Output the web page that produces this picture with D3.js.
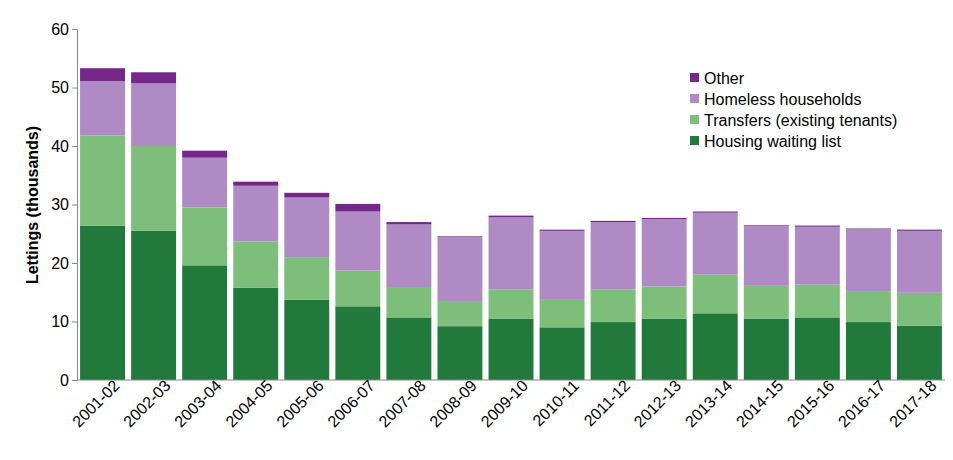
<!DOCTYPE html>
<html><head><meta charset="utf-8">
<script src="https://cdn.jsdelivr.net/npm/d3@7"></script>
<style>body{margin:0;background:#fff}text{font-family:"Liberation Sans",Arial,sans-serif}</style>
</head><body><svg id="c" width="953" height="460"></svg>
<script>
const categories=["2001-02","2002-03","2003-04","2004-05","2005-06","2006-07","2007-08","2008-09","2009-10","2010-11","2011-12","2012-13","2013-14","2014-15","2015-16","2016-17","2017-18"];
const waiting=[26.4,25.5,19.6,15.8,13.7,12.6,10.7,9.2,10.5,9.0,9.9,10.5,11.4,10.5,10.7,9.9,9.3];
const transfers=[15.4,14.5,9.9,7.9,7.3,6.1,5.2,4.3,5.0,4.7,5.6,5.5,6.6,5.6,5.6,5.3,5.6];
const homeless=[9.3,10.7,8.5,9.5,10.2,10.1,10.7,11.0,12.3,11.8,11.5,11.5,10.6,10.3,9.9,10.6,10.6];
const other=[2.2,1.9,1.2,0.7,0.8,1.3,0.4,0.1,0.3,0.2,0.2,0.2,0.2,0.1,0.2,0.1,0.2];
const yTicks=[0,10,20,30,40,50,60];
const seriesNames=["Housing waiting list","Transfers (existing tenants)","Homeless households","Other"];
const colors=["#217a3c","#7dbf7a","#af8ac4","#76288a"];

const svg=d3.select("#c");
const m={l:77,r:945,t:29,b:380};
const x=d3.scaleBand().domain(categories).range([m.l,m.r]).paddingInner(0.12).paddingOuter(0.06);
const y=d3.scaleLinear().domain([0,60]).range([m.b,m.t]);
const data=categories.map((c,i)=>({cat:c,s0:waiting[i],s1:transfers[i],s2:homeless[i],s3:other[i]}));
const stack=d3.stack().keys(["s0","s1","s2","s3"])(data);
svg.append("g").selectAll("g").data(stack).join("g").attr("fill",(d,i)=>colors[i])
 .selectAll("rect").data(d=>d).join("rect")
 .attr("x",d=>x(d.data.cat)).attr("width",x.bandwidth())
 .attr("y",d=>y(d[1])).attr("height",d=>y(d[0])-y(d[1]));
const ya=svg.append("g").attr("transform",`translate(${m.l},0)`).call(d3.axisLeft(y).tickValues(yTicks).tickSize(5).tickSizeOuter(0));
ya.selectAll("text").style("font-size","16px").attr("fill","#000");
ya.selectAll("line,path").attr("stroke","#888");
const xa=svg.append("g").attr("transform",`translate(0,${m.b})`).call(d3.axisBottom(x).tickSize(0).tickSizeOuter(0));
xa.select("path").attr("stroke","#888").attr("d",`M${m.l},0H${m.r}`);
xa.selectAll("text").style("font-size","16px").attr("fill","#000")
 .attr("text-anchor","end").attr("dx","0.5em").attr("dy","0.9em").attr("transform","rotate(-45)");
svg.append("text").attr("transform","translate(38,205) rotate(-90)").attr("text-anchor","middle")
 .style("font-size","16px").style("font-weight","bold").text("Lettings (thousands)");
const leg=svg.append("g");
[3,2,1,0].forEach((k,j)=>{
 const g=leg.append("g").attr("transform",`translate(690,${78+j*21})`);
 g.append("rect").attr("x",0).attr("y",-5).attr("width",9).attr("height",9).attr("fill",colors[k]);
 g.append("text").attr("x",14).attr("y",6).style("font-size","16px").text(seriesNames[k]);
});
</script></body></html>
